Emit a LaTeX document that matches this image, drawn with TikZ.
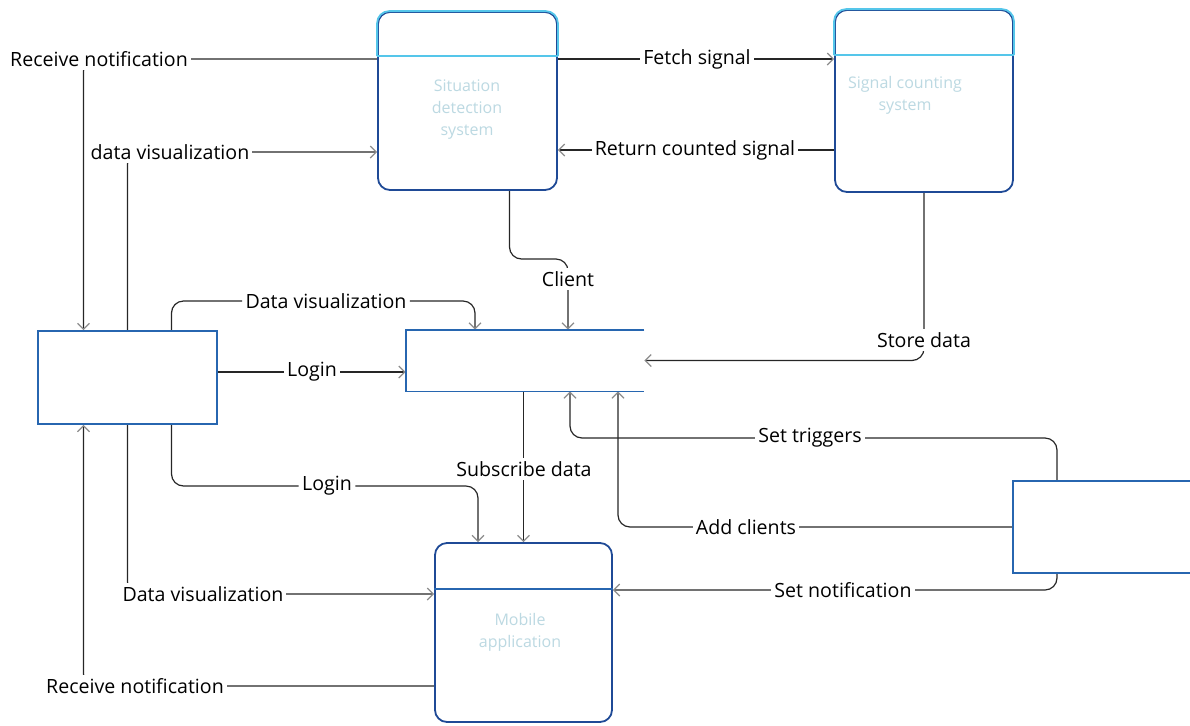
\documentclass[tikz,border=0pt]{standalone}
\usepackage{fontspec}
\setmainfont{Open Sans}
\usetikzlibrary{arrows.meta,backgrounds}

\begin{document}
\begin{tikzpicture}[x=0.5pt,y=-0.5pt,
  font=\fontsize{9.8}{11}\selectfont,
  lbl/.style={fill=white,inner sep=1.5pt},
  flow/.style={draw=black!85,line width=0.6pt,rounded corners=6pt},
  arr/.style={-{Straight Barb[length=3pt,width=6pt,color=black!45]}},
  procbox/.style={draw=kNavy,line width=0.9pt,rounded corners=6pt,fill=white,inner sep=0pt},
  plainbox/.style={draw=kBlue,line width=0.9pt,fill=white,inner sep=0pt},
  hdr/.style={draw=kCyan,line width=0.9pt,rounded corners=6pt},
  boxtext/.style={text=kFaint,align=center,font=\fontsize{8}{11}\selectfont}]
  % colors
  \definecolor{kNavy}{HTML}{1F4A96}
  \definecolor{kBlue}{HTML}{2766B0}
  \definecolor{kCyan}{HTML}{55C6EA}
  \definecolor{kFaint}{HTML}{BCD9E2}
  \useasboundingbox (0,0) rectangle (1190,725);

  % boxes
  \node[procbox,minimum width=89.5pt,minimum height=89pt] (sds) at (467.5,101) {};
  \node[procbox,minimum width=89pt,minimum height=91pt] (scs) at (924,101) {};
  \node[procbox,minimum width=88.5pt,minimum height=89.5pt] (mob) at (523.5,632.5) {};
  \node[plainbox,minimum width=89.5pt,minimum height=46.5pt] (lbox) at (127.5,377.5) {};
  \node[minimum width=119pt,minimum height=30.5pt,inner sep=0pt] (mstore) at (525,360.5) {};
  \node[plainbox,minimum width=93.5pt,minimum height=46pt] (rbox) at (1106.5,527) {};
  \draw[draw=kBlue,line width=0.9pt] (mstore.north east) -- (mstore.north west)
    -- (mstore.south west) -- (mstore.south east);

  % headers
  \draw[hdr] ([yshift=-22.5pt]sds.north west) |- (sds.north) -| ([yshift=-22.5pt]sds.north east);
  \draw[hdr] ([yshift=-22.5pt]sds.north west) -- ([yshift=-22.5pt]sds.north east);
  \draw[hdr] ([yshift=-23pt]scs.north west) |- (scs.north) -| ([yshift=-23pt]scs.north east);
  \draw[hdr] ([yshift=-23pt]scs.north west) -- ([yshift=-23pt]scs.north east);
  \draw[hdr,draw=kBlue] ([yshift=-23.5pt]mob.north west) -- ([yshift=-23.5pt]mob.north east);

  % box texts
  \node[boxtext] (sdsT) at (467,110) {Situation\\detection\\system};
  \node[boxtext] (scsT) at (905,95) {Signal counting\\system};
  \node[boxtext] (mobT) at (520,632) {Mobile\\application};

  % points on the box edges
  \coordinate (lT1) at ([xshift=-22pt]lbox.north);
  \coordinate (lT3) at ([xshift=22pt]lbox.north);
  \coordinate (lB1) at ([xshift=-22pt]lbox.south);
  \coordinate (lB3) at ([xshift=22pt]lbox.south);
  \coordinate (sdsB) at ([xshift=21pt]sds.south);
  \coordinate (mT1) at ([xshift=-25pt]mstore.north);
  \coordinate (mB1) at ([xshift=22.5pt]mstore.south);
  \coordinate (mB2) at ([xshift=46.5pt]mstore.south);
  \coordinate (mobT1) at ([xshift=-22.75pt]mob.north);
  \coordinate (rT1) at ([xshift=-24.75pt]rbox.north);
  \coordinate (rB1) at ([xshift=-24.75pt]rbox.south);

  % labels
  \node[lbl] (rn1) at (99,59) {Receive notification};
  \node[lbl] (dv1) at (170,152) {data visualization};
  \node[lbl] (fs) at (697,59) {Fetch signal};
  \node[lbl] (rcs) at (695,150) {Return counted signal};
  \node[lbl] (cl) at (568,279) {Client};
  \node[lbl] (sd) at (924,340) {Store data};
  \node[lbl] (dv2) at (326,301) {Data visualization};
  \node[lbl] (lg1) at (312,372) {Login};
  \node[lbl] (sub) at (524,469) {Subscribe data};
  \node[lbl] (lg2) at (327,486) {Login};
  \node[lbl] (dv3) at (203,594) {Data visualization};
  \node[lbl] (rn2) at (135,686) {Receive notification};
  \node[lbl] (st) at (810,438) {Set triggers};
  \node[lbl] (ac) at (746,527) {Add clients};
  \node[lbl] (sn) at (843,590) {Set notification};

  % connectors
  \begin{pgfonlayer}{background}
    \draw[flow,arr] (sds.west |- rn1) -| (lT1);
    \draw[flow,arr] (lbox.north) |- (sds.west |- dv1);
    \draw[flow,arr] (sds.east |- fs) -- (scs.west |- fs);
    \draw[flow,arr] (scs.west |- rcs) -- (sds.east |- rcs);
    \draw[flow,arr] (sdsB) |- ([yshift=10pt]cl.center) -- (cl |- mstore.north);
    \draw[flow,arr] (scs.south) |- (mstore.east);
    \draw[flow,arr] (lT3) |- (dv2) -| (mT1);
    \draw[flow,arr] (lbox.east |- lg1) -- (mstore.west |- lg1);
    \draw[flow,arr] (mstore.south -| mob.north) -- (mob.north);
    \draw[flow,arr] (lB3) |- (lg2) -| (mobT1);
    \draw[flow,arr] (lbox.south) |- (mob.west |- dv3);
    \draw[flow,arr] (mob.west |- rn2) -| (lB1);
    \draw[flow,arr] (rT1) |- (st) -| (mB1);
    \draw[flow,arr] (rbox.west) -| (mB2);
    \draw[flow,arr] (rB1) |- (mob.east |- sn);
  \end{pgfonlayer}
\end{tikzpicture}
\end{document}
